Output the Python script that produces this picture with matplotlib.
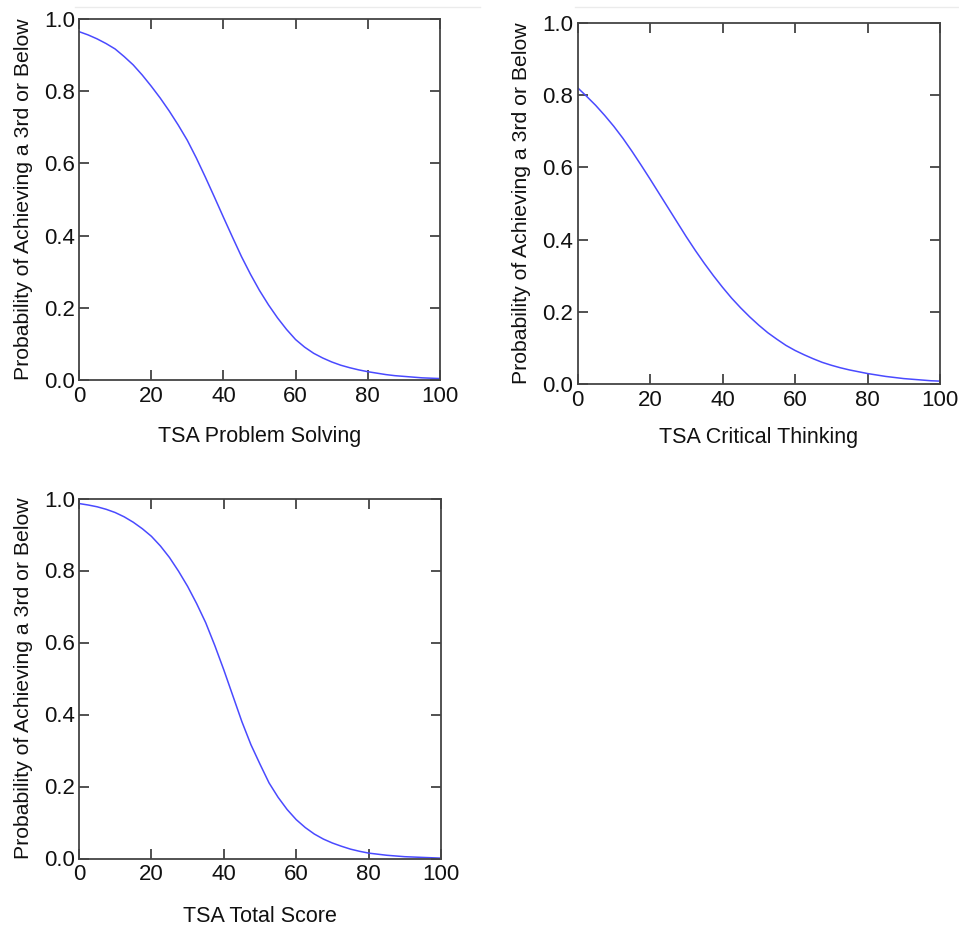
import matplotlib
matplotlib.use("Agg")
import matplotlib.pyplot as plt
from matplotlib.lines import Line2D

plt.rcParams['font.family'] = ['Liberation Sans', 'DejaVu Sans']

x_vals = [0, 2.5, 5, 7.5, 10, 12.5, 15, 17.5, 20, 22.5, 25, 27.5, 30, 32.5, 35, 37.5,
          40, 42.5, 45, 47.5, 50, 52.5, 55, 57.5, 60, 62.5, 65, 67.5, 70, 72.5, 75, 77.5,
          80, 82.5, 85, 87.5, 90, 92.5, 95, 97.5, 100]

problem_solving = [0.965, 0.956, 0.945, 0.932, 0.917, 0.896, 0.873, 0.845, 0.814, 0.781,
                   0.745, 0.706, 0.664, 0.615, 0.562, 0.507, 0.451, 0.396, 0.342, 0.293,
                   0.248, 0.208, 0.172, 0.140, 0.112, 0.091, 0.074, 0.061, 0.050, 0.041,
                   0.034, 0.028, 0.023, 0.019, 0.015, 0.012, 0.010, 0.008, 0.006, 0.005, 0.004]
critical_thinking = [0.821, 0.797, 0.772, 0.744, 0.714, 0.681, 0.645, 0.607, 0.568, 0.528,
                     0.488, 0.448, 0.408, 0.370, 0.334, 0.300, 0.268, 0.238, 0.211, 0.186,
                     0.163, 0.142, 0.124, 0.107, 0.093, 0.081, 0.070, 0.060, 0.052, 0.045,
                     0.039, 0.034, 0.029, 0.025, 0.021, 0.018, 0.015, 0.013, 0.011, 0.009, 0.008]
total_score = [0.986, 0.982, 0.977, 0.970, 0.961, 0.949, 0.934, 0.916, 0.895, 0.868,
               0.836, 0.798, 0.756, 0.708, 0.655, 0.592, 0.524, 0.452, 0.380, 0.316,
               0.262, 0.210, 0.170, 0.136, 0.108, 0.086, 0.068, 0.054, 0.043, 0.034,
               0.026, 0.020, 0.015, 0.012, 0.009, 0.007, 0.005, 0.004, 0.003, 0.002, 0.001]

x_ticks = [0, 20, 40, 60, 80, 100]
y_ticks = [0.0, 0.2, 0.4, 0.6, 0.8, 1.0]
y_tick_labels = ['0.0', '0.2', '0.4', '0.6', '0.8', '1.0']
ylabel = 'Probability of Achieving a 3rd or Below'

panels = [
    (problem_solving, 'TSA Problem Solving', [79/959, 1-380/926, 361/959, 361/926], 14),
    (critical_thinking, 'TSA Critical Thinking', [577.5/959, 1-384/926, 362.5/959, 361/926], 12),
    (total_score, 'TSA Total Score', [79/959, 1-858.5/926, 362/959, 360/926], 15),
]

fig = plt.figure(figsize=(9.59, 9.26), dpi=100)

for ys, xlabel, rect, xpad in panels:
    ax = fig.add_axes(rect)
    ax.plot(x_vals, ys, color='#4a4aff', lw=1.1)
    ax.set_xlim(0, 100)
    ax.set_ylim(0, 1.0)
    ax.set_xticks(x_ticks)
    ax.set_xticklabels([str(t) for t in x_ticks])
    ax.set_yticks(y_ticks)
    ax.set_yticklabels(y_tick_labels)
    ax.tick_params(direction='in', length=7.5, width=1.2, color='#333333',
                   top=True, right=True, labelsize=16, labelcolor='#111111')
    ax.tick_params(axis='x', pad=4)
    ax.tick_params(axis='y', pad=3)
    for s in ax.spines.values():
        s.set_color('#444444')
        s.set_linewidth(1.3)
    ax.set_xlabel(xlabel, fontsize=15.5, labelpad=xpad, color='#111111')
    ax.set_ylabel(ylabel, fontsize=15.3, labelpad=8, color='#111111')

fig.add_artist(Line2D([75/959, 480/959], [1-7/926, 1-7/926], color='#ebebeb', lw=1))
fig.add_artist(Line2D([575/959, 1.0], [1-7/926, 1-7/926], color='#ebebeb', lw=1))

fig.savefig('out.png', dpi=100)
